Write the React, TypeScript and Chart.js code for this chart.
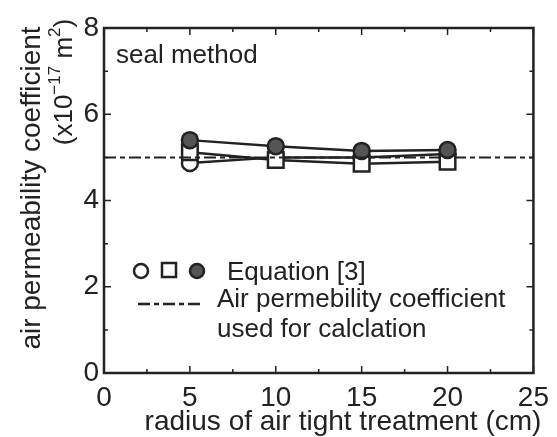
import React, { useEffect, useRef } from "react";
import { Chart, registerables } from "chart.js";

Chart.register(...registerables);

const radii = [5, 10, 15, 20];
const openCircle = [4.87, 5.0, 5.0, 5.08];
const openSquare = [5.12, 4.94, 4.85, 4.9];
const filledCircle = [5.4, 5.26, 5.15, 5.17];
const refX = [0, 25];
const refY = [5, 5];
const xMajor = [0, 5, 10, 15, 20, 25];
const xMinor = [2.5, 7.5, 12.5, 17.5, 22.5];
const yMajor = [0, 2, 4, 6, 8];
const yMinor = [1, 3, 5, 7];

const INK = "#222";
const FONT = "'Liberation Sans', Arial, sans-serif";

const overlay = {
  id: "overlay",
  afterDraw(chart: any) {
    const { ctx, chartArea: a, scales } = chart;
    const xs = scales.x;
    const ys = scales.y;
    ctx.save();
    ctx.strokeStyle = INK;
    ctx.lineWidth = 2.5;
    ctx.strokeRect(a.left, a.top, a.right - a.left, a.bottom - a.top);
    const tick = (vals: number[], len: number) => {
      vals.forEach((v) => {
        const px = xs.getPixelForValue(v);
        ctx.beginPath();
        ctx.moveTo(px, a.bottom);
        ctx.lineTo(px, a.bottom - len);
        ctx.moveTo(px, a.top);
        ctx.lineTo(px, a.top + len);
        ctx.stroke();
      });
    };
    const tickY = (vals: number[], len: number) => {
      vals.forEach((v) => {
        const py = ys.getPixelForValue(v);
        ctx.beginPath();
        ctx.moveTo(a.left, py);
        ctx.lineTo(a.left + len, py);
        ctx.moveTo(a.right, py);
        ctx.lineTo(a.right - len, py);
        ctx.stroke();
      });
    };
    ctx.lineWidth = 1.5;
    tick(xMajor, 7);
    tick(xMinor, 4);
    tickY(yMajor, 7);
    tickY(yMinor, 4);

    ctx.fillStyle = INK;
    ctx.textBaseline = "middle";
    ctx.font = `26px ${FONT}`;
    ctx.textAlign = "left";
    ctx.fillText("seal method", 116, 56);

    // legend
    ctx.lineWidth = 2.5;
    ctx.beginPath();
    ctx.arc(141, 271, 7, 0, Math.PI * 2);
    ctx.fillStyle = "#fff";
    ctx.fill();
    ctx.stroke();
    ctx.fillRect(162, 263, 14, 14);
    ctx.strokeRect(162, 263, 14, 14);
    ctx.beginPath();
    ctx.arc(197, 271, 7, 0, Math.PI * 2);
    ctx.fillStyle = "#555";
    ctx.fill();
    ctx.stroke();
    ctx.setLineDash([12, 4, 5, 4]);
    ctx.beginPath();
    ctx.moveTo(138, 304);
    ctx.lineTo(202, 304);
    ctx.stroke();
    ctx.setLineDash([]);
    ctx.fillStyle = INK;
    ctx.font = `26px ${FONT}`;
    ctx.fillText("Equation [3]", 227, 273);
    ctx.fillText("Air permebility coefficient", 217, 300);
    ctx.fillText("used for calclation", 217, 330);

    // axis titles
    ctx.textAlign = "center";
    ctx.font = `28px ${FONT}`;
    ctx.fillText("radius of air tight treatment (cm)", 343, 422);
    ctx.save();
    ctx.translate(32, 188);
    ctx.rotate(-Math.PI / 2);
    ctx.font = `28px ${FONT}`;
    ctx.fillText("air permeability coefficient", 0, 0);
    ctx.restore();

    // second line with superscripts
    ctx.save();
    ctx.translate(65, 82);
    ctx.rotate(-Math.PI / 2);
    ctx.textAlign = "left";
    const parts: [string, boolean][] = [
      ["(x10", false],
      ["\u221217", true],
      [" m", false],
      ["2", true],
      [")", false],
    ];
    const mainF = `26px ${FONT}`;
    const supF = `17px ${FONT}`;
    let total = 0;
    parts.forEach(([t, s]) => {
      ctx.font = s ? supF : mainF;
      total += ctx.measureText(t).width;
    });
    let cx = -total / 2;
    parts.forEach(([t, s]) => {
      ctx.font = s ? supF : mainF;
      ctx.fillText(t, cx, s ? -10 : 0);
      cx += ctx.measureText(t).width;
    });
    ctx.restore();
    ctx.restore();
  },
};

export default function App() {
  const ref = useRef<HTMLCanvasElement | null>(null);
  useEffect(() => {
    document.body.style.margin = "0";
    const canvas = ref.current!;
    const pts = (ys: number[]) => radii.map((x, i) => ({ x, y: ys[i] }));
    const chart = new Chart(canvas, {
      type: "line",
      data: {
        datasets: [
          {
            data: refX.map((x, i) => ({ x, y: refY[i] })),
            borderColor: INK,
            borderWidth: 2,
            borderDash: [12, 4, 5, 4],
            pointRadius: 0,
          },
          {
            data: pts(filledCircle),
            borderColor: INK,
            borderWidth: 2.5,
            pointStyle: "circle",
            pointRadius: 8,
            pointBackgroundColor: "#555",
            pointBorderColor: INK,
            pointBorderWidth: 2.5,
          },
          {
            data: pts(openSquare),
            borderColor: INK,
            borderWidth: 2.5,
            pointStyle: "rect",
            pointRadius: 11,
            pointBackgroundColor: "#fff",
            pointBorderColor: INK,
            pointBorderWidth: 2.5,
          },
          {
            data: pts(openCircle),
            borderColor: INK,
            borderWidth: 2.5,
            pointStyle: "circle",
            pointRadius: 8,
            pointBackgroundColor: "#fff",
            pointBorderColor: INK,
            pointBorderWidth: 2.5,
          },
        ],
      },
      options: {
        animation: false,
        responsive: false,
        layout: { padding: { top: 28, right: 19, left: 0, bottom: 0 } },
        plugins: { legend: { display: false }, tooltip: { enabled: false } },
        scales: {
          x: {
            type: "linear",
            min: 0,
            max: 25,
            afterFit: (s: any) => {
              s.height = 64;
            },
            afterBuildTicks: (s: any) => {
              s.ticks = xMajor.map((v) => ({ value: v }));
            },
            grid: { display: false, drawTicks: false },
            border: { display: false },
            ticks: {
              color: INK,
              padding: 8,
              maxRotation: 0,
              font: { family: FONT, size: 28 },
            },
          },
          y: {
            type: "linear",
            min: 0,
            max: 8,
            afterFit: (s: any) => {
              s.width = 104;
            },
            afterBuildTicks: (s: any) => {
              s.ticks = yMajor.map((v) => ({ value: v }));
            },
            grid: { display: false, drawTicks: false },
            border: { display: false },
            ticks: {
              color: INK,
              padding: 5,
              font: { family: FONT, size: 28 },
            },
          },
        },
      },
      plugins: [overlay],
    });
    return () => chart.destroy();
  }, []);
  return (
    <div style={{ position: "absolute", left: 0, top: 0, width: 557, height: 437 }}>
      <canvas ref={ref} width={557} height={437} style={{ width: 557, height: 437 }} />
    </div>
  );
}
